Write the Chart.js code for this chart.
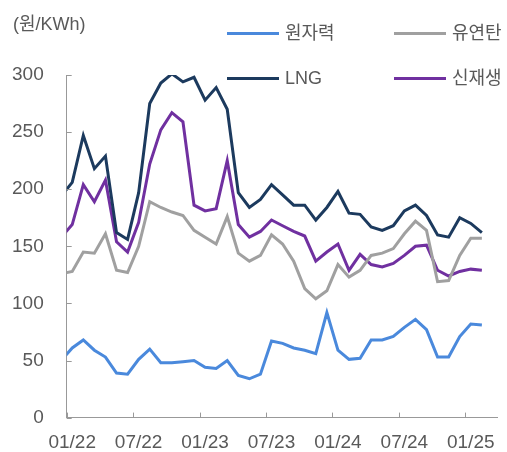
<!DOCTYPE html>
<html>
<head>
<meta charset="utf-8">
<script src="https://cdn.jsdelivr.net/npm/chart.js@4"></script>
<style>
    body { margin: 0; background: #fff; }
    .wrap { position: relative; width: 507px; height: 452px; font-family: 'Liberation Sans', 'Noto Sans CJK KR', sans-serif; color: #595959; }
    .unit { position: absolute; left: 13px; top: 9px; font-size: 18px; }
    .leg { position: absolute; font-size: 18px; line-height: 22px; white-space: nowrap; }
    .leg span { display: inline-block; width: 52px; height: 3px; vertical-align: middle; margin-right: 6px; position: relative; top: -1px; }
</style>
</head>
<body>
<div class="wrap">
    <canvas id="myChart" width="507" height="452"></canvas>
    <div class="unit">(원/KWh)</div>
    <div class="leg" style="left:227px;top:22px"><span style="background:#4A89DC"></span>원자력</div>
    <div class="leg" style="left:394px;top:22px"><span style="background:#A0A0A0"></span>유연탄</div>
    <div class="leg" style="left:227px;top:67px"><span style="background:#1C3A5E"></span>LNG</div>
    <div class="leg" style="left:394px;top:67px"><span style="background:#7030A0"></span>신재생</div>
</div>
<script>
// months, first one (12/21) sits left of the axis and gets clipped
let months = ['12/21',
    '01/22','02/22','03/22','04/22','05/22','06/22','07/22','08/22','09/22','10/22','11/22','12/22',
    '01/23','02/23','03/23','04/23','05/23','06/23','07/23','08/23','09/23','10/23','11/23','12/23',
    '01/24','02/24','03/24','04/24','05/24','06/24','07/24','08/24','09/24','10/24','11/24','12/24',
    '01/25','02/25']
let tickLabels = ['01/22','07/22','01/23','07/23','01/24','07/24','01/25']

let nuclear = [50, 61, 68, 59, 53, 39, 38, 51, 60, 48, 48, 49, 50, 44, 43, 50, 37, 34, 38, 67, 65, 61, 59, 56, 92, 59, 51, 52, 68, 68, 71, 79, 86, 77, 53, 53, 71, 82, 81]
let coal = [126, 128, 145, 144, 161, 129, 127, 150, 189, 184, 180, 177, 164, 158, 152, 176, 144, 137, 142, 160, 152, 137, 113, 104, 111, 134, 123, 129, 142, 144, 148, 161, 172, 164, 119, 120, 142, 157, 157]
let lng = [194, 206, 247, 218, 229, 162, 156, 197, 275, 293, 301, 294, 298, 278, 289, 270, 197, 184, 191, 204, 195, 186, 186, 173, 184, 198, 179, 178, 167, 164, 168, 181, 186, 177, 160, 158, 175, 170, 162]
let renew = [158, 169, 204, 189, 208, 154, 145, 171, 222, 252, 267, 259, 186, 181, 183, 225, 169, 158, 163, 173, 168, 163, 159, 137, 145, 152, 129, 143, 134, 132, 135, 142, 150, 151, 129, 124, 128, 130, 129]

function toPoints(values) {
    let pts = []
    for (let i = 0; i < values.length; i++) {
        pts.push({ x: i - 1, y: values[i] })
    }
    return pts
}

function tickValues() {
    // tick marks sit at the start of each labelled month
    let out = []
    for (let i = 0; i < tickLabels.length; i++) {
        out.push({ value: months.indexOf(tickLabels[i]) - 1.5 })
    }
    return out
}

const innerTicks = {
    id: 'innerTicks',
    afterDraw(chart) {
        let ctx = chart.ctx
        let area = chart.chartArea
        ctx.save()
        ctx.strokeStyle = '#999'
        ctx.lineWidth = 1
        ctx.beginPath()
        chart.scales.y.ticks.forEach((t) => {
            let py = Math.round(chart.scales.y.getPixelForValue(t.value)) + 0.5
            ctx.moveTo(area.left, py)
            ctx.lineTo(area.left + 5, py)
        })
        chart.scales.x.ticks.forEach((t) => {
            let px = Math.round(chart.scales.x.getPixelForValue(t.value)) + 0.5
            ctx.moveTo(px, area.bottom)
            ctx.lineTo(px, area.bottom - 5)
        })
        ctx.stroke()
        ctx.restore()
    }
}

function line(label, values, color) {
    return {
        label: label,
        data: toPoints(values),
        borderColor: color,
        backgroundColor: color,
        borderWidth: 3,
        pointRadius: 0,
        tension: 0
    }
}

const ctx = document.getElementById('myChart')

new Chart(ctx, {
    type: 'line',
    data: {
        datasets: [
            line('원자력', nuclear, '#4A89DC'),
            line('유연탄', coal, '#A0A0A0'),
            line('LNG', lng, '#1C3A5E'),
            line('신재생', renew, '#7030A0')
        ]
    },
    plugins: [innerTicks],
    options: {
        responsive: false,
        animation: false,
        layout: { padding: { top: 75, right: 9.3, left: 0, bottom: 0 } },
        plugins: {
            legend: { display: false },
            tooltip: { enabled: false }
        },
        scales: {
            x: {
                type: 'linear',
                min: -0.5,
                max: 38.43,
                afterBuildTicks: (scale) => { scale.ticks = tickValues() },
                afterFit: (scale) => { scale.height = 31.3 },
                grid: { display: false, drawTicks: false },
                border: { display: true, color: '#999', width: 1 },
                ticks: {
                    autoSkip: false,
                    maxRotation: 0,
                    padding: 14,
                    labelOffset: 5.5,
                    color: '#595959',
                    font: { family: 'Liberation Sans', size: 19 },
                    callback: (value, index) => tickLabels[index]
                }
            },
            y: {
                min: 0,
                max: 300,
                afterFit: (scale) => { scale.width = 66.7 },
                grid: { display: false, drawTicks: false },
                border: { display: true, color: '#999', width: 1 },
                ticks: {
                    stepSize: 50,
                    padding: 23,
                    color: '#595959',
                    font: { family: 'Liberation Sans', size: 19 }
                }
            }
        }
    }
})
</script>
</body>
</html>
